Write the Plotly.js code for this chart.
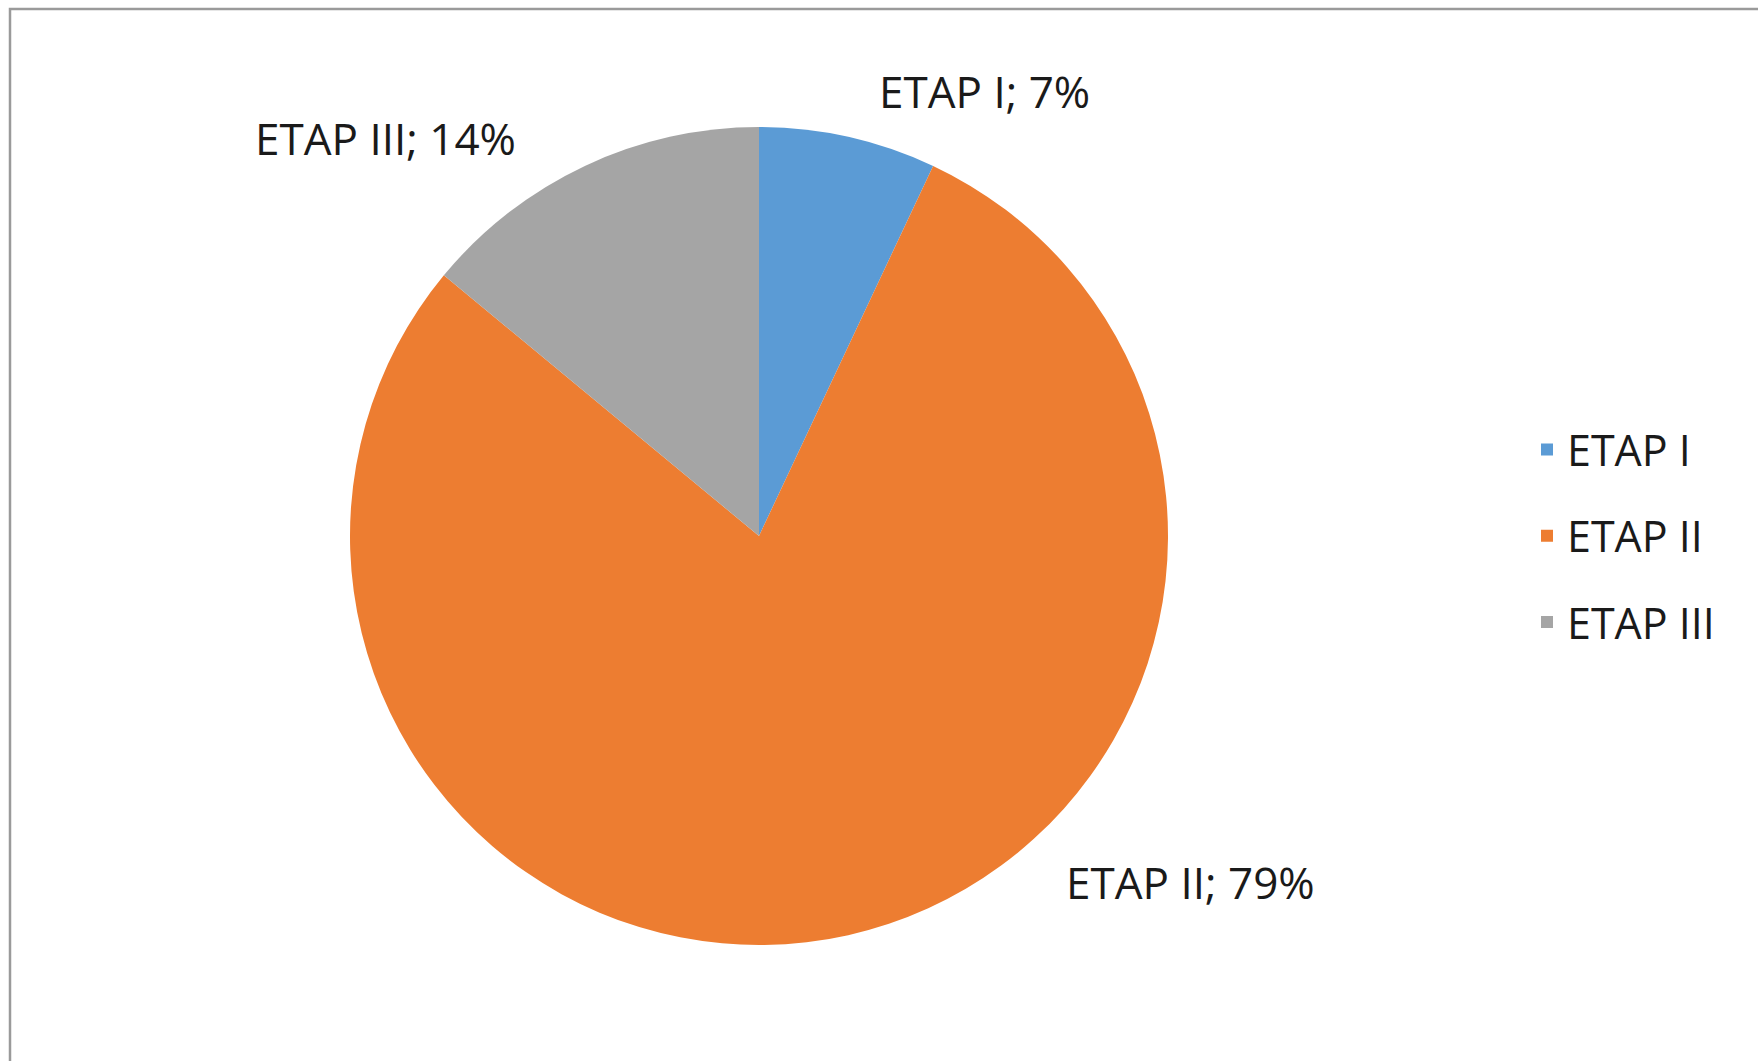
<!DOCTYPE html>
<html>
<head>
<meta charset="utf-8">
<script src="https://cdn.plot.ly/plotly-3.0.1.min.js"></script>
<style>
  html, body { margin: 0; padding: 0; background: #ffffff; }
  #chart { width: 1758px; height: 1061px; }
</style>
</head>
<body>
<div id="chart"></div>
<script>
// Data
const categories = ["ETAP I", "ETAP II", "ETAP III"];
const values = [7, 79, 14];
const colors = ["#5B9BD5", "#ED7D31", "#A5A5A5"];

const W = 1758, H = 1061;
const FONT = "Open Sans, Liberation Sans, Arial, sans-serif";

// pie geometry (pixels)
const cx = 759, cy = 536, R = 409;

const total = values.reduce((a, b) => a + b, 0);
const labelText = categories.map((c, i) => c + "; " + Math.round(values[i] / total * 100) + "%");

// label placement (pixels, layout only)
const labelPos = [
  {x: 984, y: 91},
  {x: 1190, y: 882},
  {x: 385, y: 138}
];

const trace = {
  type: "pie",
  labels: categories.map(c => "<br><br><span style='font-size:43px'>" + c + "</span><br>"),
  values: values,
  sort: false,
  direction: "clockwise",
  rotation: 0,
  textinfo: "none",
  hoverinfo: "label+percent",
  marker: { colors: colors, line: { width: 0 } },
  domain: {
    x: [(cx - R) / W, (cx + R) / W],
    y: [1 - (cy + R) / H, 1 - (cy - R) / H]
  },
  showlegend: true
};

const annotations = labelText.map((t, i) => ({
  xref: "paper", yref: "paper",
  x: labelPos[i].x / W, y: 1 - labelPos[i].y / H,
  xanchor: "center", yanchor: "middle",
  text: t, showarrow: false,
  font: { family: FONT, size: 44, color: "#1a1a1a" }
}));

const layout = {
  width: W, height: H,
  margin: { l: 0, r: 0, t: 0, b: 0 },
  paper_bgcolor: "#ffffff",
  plot_bgcolor: "#ffffff",
  font: { family: FONT, color: "#1a1a1a" },
  showlegend: true,
  legend: {
    x: 1527 / W, xanchor: "left",
    y: 1 - 536 / H, yanchor: "middle",
    font: { family: FONT, size: 16, color: "#1a1a1a" },
    bgcolor: "rgba(0,0,0,0)",
    borderwidth: 0
  },
  annotations: annotations,
  shapes: [{
    type: "rect", xref: "paper", yref: "paper",
    x0: 10 / W, x1: 1.05, y0: -0.05, y1: 1 - 9 / H,
    line: { color: "#9a9a9a", width: 2.5 },
    fillcolor: "rgba(0,0,0,0)",
    layer: "above"
  }]
};

Plotly.newPlot("chart", [trace], layout, { staticPlot: true, displayModeBar: false });
</script>
</body>
</html>
